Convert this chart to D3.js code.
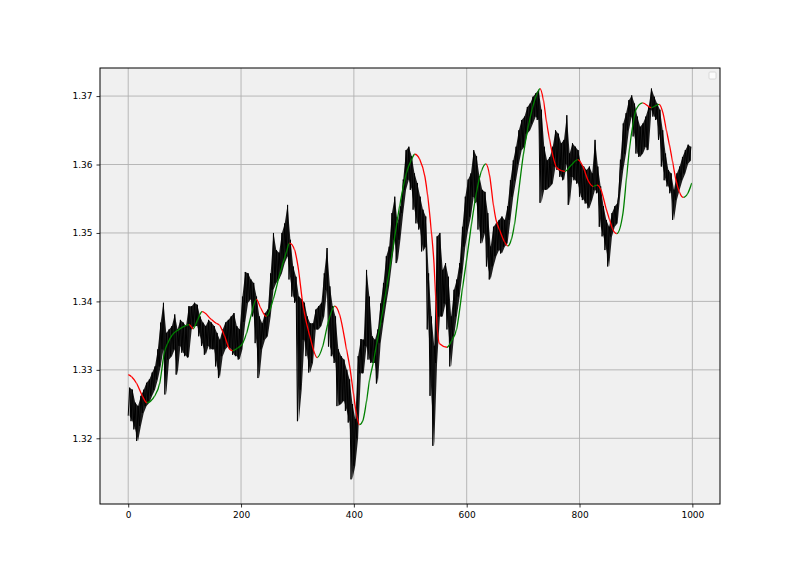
<!DOCTYPE html>
<html><head><meta charset="utf-8">
<script src="https://cdn.jsdelivr.net/npm/d3@7"></script>
<style>body{margin:0;background:#fff} text{font-family:"DejaVu Sans",sans-serif}</style>
</head><body><svg id="c" width="800" height="566"></svg>
<script>
// price envelope per 5-step bucket (bucket start 0,5,...,995)
const priceHigh = [
1.3274,1.3271,1.3252,1.3247,1.3262,1.3271,1.3281,1.3286,1.3296,1.3305,
1.3330,1.3369,1.3398,1.3354,1.3359,1.3364,1.3381,1.3359,1.3373,1.3369,
1.3364,1.3393,1.3393,1.3398,1.3395,1.3378,1.3369,1.3364,1.3373,1.3369,
1.3364,1.3354,1.3344,1.3359,1.3369,1.3373,1.3378,1.3383,1.3364,1.3359,
1.3407,1.3443,1.3441,1.3432,1.3427,1.3407,1.3378,1.3368,1.3383,1.3388,
1.3441,1.3500,1.3475,1.3471,1.3500,1.3514,1.3541,1.3490,1.3451,1.3436,
1.3407,1.3403,1.3398,1.3378,1.3368,1.3368,1.3388,1.3393,1.3398,1.3441,
1.3478,1.3422,1.3393,1.3378,1.3330,1.3320,1.3315,1.3300,1.3286,1.3250,
1.3228,1.3320,1.3345,1.3344,1.3446,1.3407,1.3349,1.3344,1.3359,1.3397,
1.3427,1.3466,1.3480,1.3529,1.3553,1.3514,1.3539,1.3578,1.3621,1.3626,
1.3612,1.3587,1.3573,1.3553,1.3534,1.3524,1.3441,1.3378,1.3335,1.3495,
1.3500,1.3446,1.3456,1.3436,1.3378,1.3417,1.3432,1.3456,1.3509,1.3553,
1.3578,1.3587,1.3621,1.3612,1.3583,1.3563,1.3560,1.3529,1.3480,1.3509,
1.3514,1.3519,1.3524,1.3519,1.3539,1.3577,1.3606,1.3626,1.3650,1.3665,
1.3670,1.3684,1.3689,1.3699,1.3704,1.3709,1.3680,1.3626,1.3606,1.3611,
1.3626,1.3650,1.3645,1.3631,1.3636,1.3672,1.3616,1.3631,1.3626,1.3621,
1.3601,1.3597,1.3592,1.3597,1.3587,1.3636,1.3597,1.3568,1.3539,1.3519,
1.3509,1.3529,1.3539,1.3544,1.3607,1.3660,1.3675,1.3694,1.3701,1.3689,
1.3670,1.3655,1.3660,1.3670,1.3684,1.3711,1.3699,1.3689,1.3680,1.3650,
1.3616,1.3592,1.3587,1.3563,1.3587,1.3597,1.3611,1.3621,1.3629,1.3626];
const priceLow = [
1.3233,1.3225,1.3213,1.3196,1.3218,1.3237,1.3247,1.3252,1.3262,1.3271,
1.3286,1.3305,1.3330,1.3264,1.3315,1.3320,1.3330,1.3293,1.3335,1.3325,
1.3320,1.3318,1.3359,1.3364,1.3364,1.3349,1.3335,1.3322,1.3335,1.3330,
1.3330,1.3305,1.3288,1.3320,1.3330,1.3335,1.3330,1.3322,1.3320,1.3315,
1.3330,1.3370,1.3398,1.3403,1.3378,1.3339,1.3288,1.3330,1.3344,1.3349,
1.3378,1.3417,1.3427,1.3432,1.3441,1.3456,1.3466,1.3432,1.3407,1.3398,
1.3225,1.3271,1.3344,1.3320,1.3296,1.3310,1.3359,1.3359,1.3364,1.3378,
1.3417,1.3334,1.3320,1.3310,1.3247,1.3250,1.3255,1.3240,1.3223,1.3140,
1.3160,1.3200,1.3295,1.3295,1.3335,1.3315,1.3310,1.3310,1.3280,1.3339,
1.3369,1.3397,1.3422,1.3456,1.3490,1.3456,1.3490,1.3529,1.3563,1.3578,
1.3563,1.3534,1.3514,1.3505,1.3473,1.3480,1.3359,1.3262,1.3189,1.3310,
1.3378,1.3378,1.3397,1.3359,1.3305,1.3349,1.3378,1.3407,1.3441,1.3480,
1.3505,1.3524,1.3553,1.3544,1.3505,1.3485,1.3500,1.3451,1.3432,1.3451,
1.3466,1.3475,1.3470,1.3480,1.3485,1.3519,1.3553,1.3577,1.3601,1.3621,
1.3626,1.3645,1.3650,1.3660,1.3670,1.3665,1.3544,1.3563,1.3563,1.3567,
1.3572,1.3597,1.3592,1.3582,1.3577,1.3601,1.3541,1.3582,1.3577,1.3572,
1.3553,1.3548,1.3543,1.3536,1.3548,1.3563,1.3558,1.3509,1.3495,1.3475,
1.3451,1.3495,1.3509,1.3514,1.3558,1.3592,1.3616,1.3650,1.3670,1.3641,
1.3616,1.3611,1.3616,1.3626,1.3621,1.3680,1.3670,1.3665,1.3636,1.3597,
1.3577,1.3568,1.3558,1.3519,1.3548,1.3563,1.3577,1.3587,1.3601,1.3606];
const bucketSize = 5;

// smoothed line control points
const smoothX = [0,6,15,25,33,47,56,64,70,79,88,103,108,115,123,131,147,156,162,171,180,185,194,203,210,218,227,235,245,257,269,280,286,295,301,310,322,335,345,354,366,375,387,393,399,404,410,416,422,428,434,440,446,458,469,481,493,502,508,517,526,531,537,542,545,548,552,565,573,582,593,599,608,617,626,634,641,647,652,658,667,673,679,685,691,700,709,717,726,730,736,741,747,753,759,768,774,785,797,806,815,824,831,838,847,853,859,866,877,883,889,895,900,912,927,941,948,954,960,965,971,977,984,992,999];
const smoothY = [1.3293,1.3290,1.3280,1.3262,1.3252,1.3262,1.3281,1.3325,1.3339,1.3352,1.3358,1.3365,1.3366,1.3360,1.3373,1.3385,1.3374,1.3368,1.3365,1.3349,1.3330,1.3328,1.3332,1.3339,1.3354,1.3380,1.3403,1.3390,1.3378,1.3403,1.3441,1.3471,1.3485,1.3475,1.3451,1.3393,1.3349,1.3318,1.3335,1.3368,1.3393,1.3380,1.3330,1.3303,1.3267,1.3238,1.3220,1.3226,1.3252,1.3286,1.3309,1.3336,1.3362,1.3420,1.3476,1.3539,1.3587,1.3607,1.3615,1.3607,1.3582,1.3553,1.3505,1.3456,1.3407,1.3359,1.3338,1.3333,1.3342,1.3359,1.3422,1.3456,1.3510,1.3558,1.3590,1.3601,1.3582,1.3543,1.3519,1.3505,1.3487,1.3481,1.3490,1.3514,1.3553,1.3612,1.3655,1.3684,1.3706,1.3711,1.3694,1.3665,1.3636,1.3612,1.3596,1.3591,1.3590,1.3599,1.3607,1.3597,1.3577,1.3568,1.3570,1.3563,1.3536,1.3520,1.3505,1.3499,1.3529,1.3578,1.3626,1.3660,1.3680,1.3690,1.3683,1.3688,1.3675,1.3650,1.3626,1.3604,1.3577,1.3560,1.3552,1.3558,1.3573];

const xTicks = [0,200,400,600,800,1000];
const yTicks = [1.32,1.33,1.34,1.35,1.36,1.37];
const xDomain = [-50,1049];
const yDomain = [1.3104,1.3741];

const W=800,H=566, L=100, R=720, T=68, B=504;
const svg = d3.select("#c");
const x = d3.scaleLinear().domain(xDomain).range([L,R]);
const y = d3.scaleLinear().domain(yDomain).range([B,T]);

svg.append("rect").attr("x",L).attr("y",T).attr("width",R-L).attr("height",B-T).attr("fill","#f0f0f0");

// grid
const g = svg.append("g");
g.selectAll(".gx").data(xTicks).join("line")
  .attr("x1",d=>x(d)).attr("x2",d=>x(d)).attr("y1",T).attr("y2",B)
  .attr("stroke","#b0b0b0").attr("stroke-width",0.9);
g.selectAll(".gy").data(yTicks).join("line")
  .attr("y1",d=>y(d)).attr("y2",d=>y(d)).attr("x1",L).attr("x2",R)
  .attr("stroke","#b0b0b0").attr("stroke-width",0.9);

const defs = svg.append("defs");
defs.append("clipPath").attr("id","plotclip")
  .append("rect").attr("x",L).attr("y",T).attr("width",R-L).attr("height",B-T);

// price: band between bucket low and high, plus zigzag line
const band = priceHigh.map((h,i)=>[i*bucketSize+bucketSize/2, priceLow[i], h]);
const area = d3.area().x(d=>x(d[0])).y0(d=>y(d[1])).y1(d=>y(d[2]));
svg.append("path").attr("d",area(band)).attr("fill","#000").attr("fill-opacity",0.88)
  .attr("clip-path","url(#plotclip)");
const pts = [];
priceHigh.forEach((h,i)=>{
  pts.push([i*bucketSize, priceLow[i]]);
  pts.push([i*bucketSize+bucketSize/2, h]);
});
const line = d3.line().x(d=>x(d[0])).y(d=>y(d[1]));
svg.append("path").attr("d",line(pts)).attr("fill","none")
  .attr("stroke","#000").attr("stroke-width",1).attr("clip-path","url(#plotclip)");

// smooth line, coloured by direction
const sPts = smoothX.map((v,i)=>[v,smoothY[i]]);
const sLine = d3.line().x(d=>x(d[0])).y(d=>y(d[1])).curve(d3.curveMonotoneX);
const redClip = defs.append("clipPath").attr("id","redclip");
const greenClip = defs.append("clipPath").attr("id","greenclip");
for(let i=0;i<sPts.length-1;i++){
  const down = sPts[i+1][1] < sPts[i][1];
  (down?redClip:greenClip).append("rect")
    .attr("x",x(sPts[i][0])).attr("y",T)
    .attr("width",x(sPts[i+1][0])-x(sPts[i][0])+0.01).attr("height",B-T);
}
svg.append("path").attr("d",sLine(sPts)).attr("fill","none")
  .attr("stroke","green").attr("stroke-width",1.3).attr("clip-path","url(#greenclip)");
svg.append("path").attr("d",sLine(sPts)).attr("fill","none")
  .attr("stroke","red").attr("stroke-width",1.3).attr("clip-path","url(#redclip)");

// frame
svg.append("rect").attr("x",L).attr("y",T).attr("width",R-L).attr("height",B-T)
  .attr("fill","none").attr("stroke","#000").attr("stroke-width",1);

// axes ticks and labels
const xa = svg.append("g").attr("transform",`translate(0,${B})`)
  .call(d3.axisBottom(x).tickValues(xTicks).tickSize(3.5).tickPadding(4).tickFormat(d3.format("d")));
const ya = svg.append("g").attr("transform",`translate(${L},0)`)
  .call(d3.axisLeft(y).tickValues(yTicks).tickSize(3.5).tickPadding(4).tickFormat(d3.format(".2f")));
[xa,ya].forEach(a=>{
  a.select(".domain").remove();
  a.selectAll("text").attr("font-family","DejaVu Sans").attr("font-size",9).attr("fill","#000");
  a.selectAll("line").attr("stroke","#000").attr("stroke-width",0.8);
});

// empty legend box
svg.append("rect").attr("x",R-11).attr("y",T+4).attr("width",7).attr("height",7).attr("rx",1)
  .attr("fill","#fff").attr("fill-opacity",0.8).attr("stroke","#d0d0d0").attr("stroke-width",0.8);
</script></body></html>
